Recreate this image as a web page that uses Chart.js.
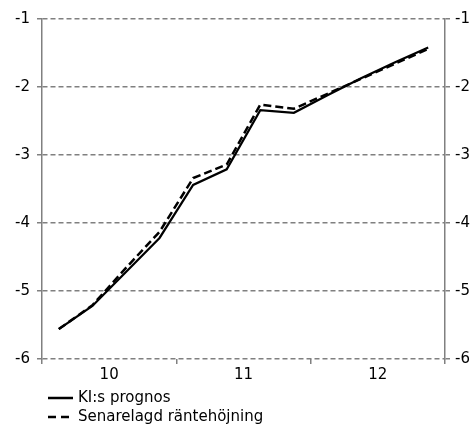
<!DOCTYPE html>
<html>
<head>
<meta charset="utf-8">
<script src="https://cdn.jsdelivr.net/npm/chart.js@4/dist/chart.umd.min.js"></script>
<style>
    body { margin: 0; background: #fff; }
    canvas { display: block; }
</style>
</head>
<body>
<canvas id="myChart" width="474" height="425"></canvas>
<script>
// quarters 2010-2012, year labels shown under each group of four
const quarters = ['10K1', '10K2', '10K3', '10K4', '11K1', '11K2', '11K3', '11K4', '12K1', '12K2', '12K3', '12K4'];
const years = ['10', '11', '12'];
const kiPrognos = [-5.56, -5.22, -4.72, -4.22, -3.44, -3.21, -2.34, -2.38, -2.12, -1.87, -1.64, -1.42];
const senareHojning = [-5.56, -5.21, -4.66, -4.13, -3.34, -3.14, -2.26, -2.32, -2.10, -1.88, -1.66, -1.44];
const seriesNames = ['KI:s prognos', 'Senarelagd räntehöjning'];

window.onload = function () {
    Chart.defaults.font.family = 'DejaVu Sans';
    Chart.defaults.font.size = 15;
    Chart.defaults.color = '#000';

    const gridGray = '#808080';

    // legend drawn underneath, one series per row
    const legendRows = {
        id: 'legendRows',
        afterDraw(chart) {
            const ctx = chart.ctx;
            const rows = [
                { y: 398, dash: [] },
                { y: 417, dash: [8, 5] }
            ];
            ctx.save();
            ctx.font = '15px DejaVu Sans';
            ctx.textBaseline = 'middle';
            ctx.fillStyle = '#000';
            rows.forEach((r, i) => {
                ctx.beginPath();
                ctx.setLineDash(r.dash);
                ctx.lineWidth = 2.5;
                ctx.strokeStyle = '#000';
                ctx.moveTo(48, r.y);
                ctx.lineTo(73, r.y);
                ctx.stroke();
                ctx.fillText(seriesNames[i], 78, r.y);
            });
            ctx.restore();
        }
    };

    const data = {
        labels: quarters,
        datasets: [{
            label: seriesNames[0],
            data: kiPrognos,
            borderColor: '#000',
            borderWidth: 2.2,
            pointRadius: 0,
            tension: 0,
            xAxisID: 'x',
            yAxisID: 'y'
        }, {
            label: seriesNames[1],
            data: senareHojning,
            borderColor: '#000',
            borderWidth: 2.5,
            borderDash: [8, 4],
            pointRadius: 0,
            tension: 0,
            xAxisID: 'x',
            yAxisID: 'y'
        }]
    };

    const config = {
        type: 'line',
        data: data,
        plugins: [legendRows],
        options: {
            responsive: false,
            animation: false,
            layout: { padding: { top: 19, bottom: 0 } },
            plugins: {
                legend: { display: false },
                tooltip: { enabled: false }
            },
            scales: {
                x: {
                    type: 'category',
                    display: false,
                    offset: true
                },
                x2: {
                    type: 'category',
                    labels: years,
                    position: 'bottom',
                    offset: true,
                    grid: {
                        offset: true,
                        drawOnChartArea: false,
                        color: gridGray,
                        tickLength: 5,
                        lineWidth: 1.5
                    },
                    border: { display: false },
                    ticks: { padding: 2, maxRotation: 0 },
                    afterFit: function (scale) { scale.height = 66; }
                },
                y: {
                    position: 'left',
                    min: -6,
                    max: -1,
                    ticks: { stepSize: 1, padding: 7 },
                    grid: { color: gridGray, lineWidth: 1.5, tickLength: 5, tickBorderDash: [] },
                    border: { color: gridGray, width: 1.5, dash: [5, 3] },
                    afterFit: function (scale) { scale.width = 42; }
                },
                y2: {
                    position: 'right',
                    min: -6,
                    max: -1,
                    ticks: { stepSize: 1, padding: 5 },
                    grid: { drawOnChartArea: false, color: gridGray, lineWidth: 1.5, tickLength: 5, tickBorderDash: [] },
                    border: { color: gridGray, width: 1.5 },
                    afterFit: function (scale) { scale.width = 29; }
                }
            }
        }
    };

    const myChart = new Chart(document.getElementById('myChart'), config);
};
</script>
</body>
</html>
